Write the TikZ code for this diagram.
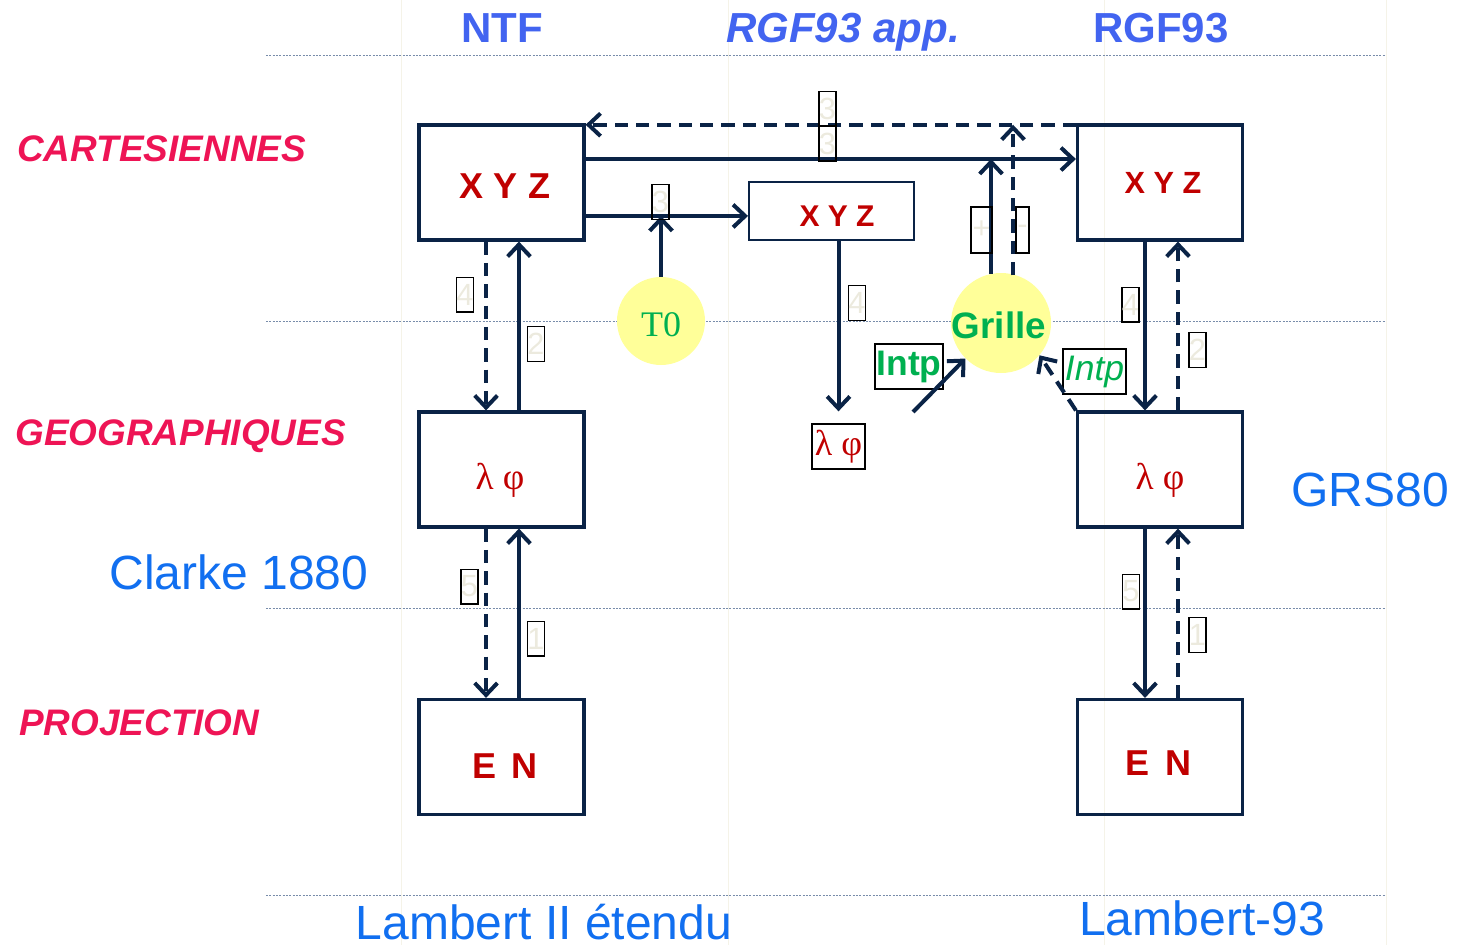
\documentclass[tikz,border=0pt]{standalone}
\usepackage{fontspec}
\setmainfont{Liberation Sans}
\newfontfamily\serifgr{Liberation Serif}
\usetikzlibrary{arrows.meta,calc}
\definecolor{navy}{RGB}{10,35,70}
\definecolor{darkred}{RGB}{192,0,0}
\definecolor{hdrblue}{RGB}{66,100,240}
\definecolor{crimson}{RGB}{238,20,85}
\definecolor{lblblue}{RGB}{17,111,240}
\definecolor{grn}{RGB}{0,176,80}
\definecolor{ylw}{RGB}{255,255,153}
\definecolor{guide}{RGB}{120,140,170}
\definecolor{faint}{RGB}{236,234,222}
\definecolor{vfaint}{RGB}{245,243,232}
\tikzset{
  mainbox/.style={draw=navy,line width=2.4pt,minimum width=123.75pt,minimum height=86.25pt,inner sep=0pt},
  boxtext/.style={text=darkred,font=\bfseries\fontsize{27}{30}\selectfont,inner sep=0pt},
  midbox/.style={draw=navy,line width=1.5pt,minimum width=123.75pt,minimum height=43.5pt,inner sep=0pt,text=darkred,font=\bfseries\fontsize{22.5}{26}\selectfont},
  geotext/.style={text=darkred,font=\serifgr\fontsize{28}{30}\selectfont,inner sep=0pt},
  numbox/.style={draw=black,line width=1pt,minimum width=12pt,minimum height=26pt,inner sep=0pt,text=faint,font=\fontsize{23}{26}\selectfont},
  arr/.style={draw=navy,line width=3pt,-{Straight Barb[length=9pt,width=17pt]}},
  darr/.style={arr,dash pattern=on 10pt off 6pt},
  guideline/.style={draw=guide,line width=0.75pt,dash pattern=on 1.5pt off 1pt},
  hdr/.style={text=hdrblue,font=\bfseries\fontsize{31.5}{36}\selectfont,inner sep=0pt},
  rowlbl/.style={text=crimson,font=\bfseries\itshape\fontsize{27.7}{32}\selectfont,inner sep=0pt,anchor=west},
  bluelbl/.style={text=lblblue,font=\fontsize{36}{40}\selectfont,inner sep=0pt},
  bubble/.style={circle,fill=ylw,draw=none,inner sep=0pt},
  intpbox/.style={draw=black,line width=1pt,inner sep=0pt,minimum height=33.75pt,text=grn}
}
\begin{document}
\begin{tikzpicture}[x=0.75pt,y=-0.75pt]
\useasboundingbox (0,0) rectangle (1458,945);
% faint vertical guides
\foreach \xx in {401,728,1104,1386} \draw[vfaint,line width=0.75pt] (\xx,0) -- (\xx,945);
% horizontal guides
\foreach \yy in {56,321,608,895} \draw[guideline] (266,\yy) -- (1386,\yy);
% headers
\node[hdr] (hntf) at (502,28) {NTF};
\node[hdr,font=\bfseries\itshape\fontsize{31.5}{36}\selectfont] (happ) at (843,32) {RGF93 app.};
\node[hdr] (hrgf) at (1161,28) {RGF93};
% row labels
\node[rowlbl] (lcart) at (17,149) {CARTESIENNES};
\node[rowlbl] (lgeo) at (15,436) {GEOGRAPHIQUES};
\node[rowlbl] (lproj) at (19,723) {PROJECTION};
\node[bluelbl] (lclarke) at (239,572) {Clarke 1880};
\node[bluelbl] (lgrs) at (1370,490) {GRS80};
\node[bluelbl] (llamb2) at (544,922) {Lambert II étendu};
\node[bluelbl] (llamb93) at (1202,918) {Lambert-93};
% bubbles
\node[bubble,minimum size=66pt] (t0) at (661,321) {};
\node[text=grn,font=\serifgr\fontsize{27}{30}\selectfont] (t0txt) at (661,325) {T0};
\node[bubble,minimum size=75pt] (grille) at (1001,323) {};
\node[text=grn,font=\bfseries\fontsize{27.6}{30}\selectfont] (grtxt) at (999,325) {Grille};
% boxes
\node[mainbox] (ntfxyz) at (501.5,182.5) {};
\node[boxtext] (ntfxyzt) at (505,186) {X Y Z};
\node[mainbox] (ntfgeo) at (501.5,469.5) {};
\node[geotext] (ntfgeot) at (500,480) {λ φ};
\node[mainbox] (ntfen) at (501.5,757) {};
\node[boxtext] (ntfent) at (505,766) {E\, N};
\node[midbox] (midxyz) at (831.5,211) {};
\node[boxtext,font=\bfseries\fontsize{22.5}{26}\selectfont] (midxyzt) at (837,216) {X Y Z};
\node[mainbox] (rgfxyz) at (1160,182.5) {};
\node[boxtext,font=\bfseries\fontsize{23}{26}\selectfont] (rgfxyzt) at (1163,183) {X Y Z};
\node[mainbox] (rgfgeo) at (1160,469.5) {};
\node[geotext] (rgfgeot) at (1160,480) {λ φ};
\node[mainbox] (rgfen) at (1160,757) {};
\node[boxtext] (rgfent) at (1158,763) {E\, N};
\node[draw=black,line width=1pt,minimum width=39.75pt,minimum height=33.75pt,inner sep=0pt,text=darkred,font=\serifgr\fontsize{27}{28}\selectfont] (smallgeo) at (838.5,446.5) {λ φ};
% Intp boxes
\node[intpbox,minimum width=51pt,font=\bfseries\fontsize{26.6}{30}\selectfont] (intpa) at (909,366.5) {Intp};
\node[intpbox,minimum width=47.25pt,font=\itshape\fontsize{26.6}{30}\selectfont] (intpb) at (1094.5,371.5) {Intp};
% arrows top
\coordinate (ytop) at ([yshift=17.6pt]ntfxyz.east);
\coordinate (ymid) at ([yshift=-25.1pt]ntfxyz.east);
\coordinate (ydash) at ([yshift=-1pt]ntfxyz.north east);
\draw[darr] (rgfxyz.north west |- ydash) -- (ydash);
\draw[arr] (ytop) -- (ytop -| rgfxyz.west);
\draw[arr] (ymid) -- (ymid -| midxyz.west);
\draw[arr] (t0.north) -- (t0.north |- ymid);
\draw[arr] (smallgeo.north |- midxyz.south) -- ([yshift=9pt]smallgeo.north);
\coordinate (g1) at ([xshift=-7.5pt,yshift=-1pt]grille.north);
\coordinate (g2) at ([xshift=9pt,yshift=-2pt]grille.north);
\draw[arr] (g1) -- (g1 |- ytop);
\draw[darr] (g2) -- (g2 |- ydash);
\coordinate (intpstart) at (913,412);
\draw[arr] (intpstart) -- (grille.225);
\draw[darr] (rgfgeo.north west) -- (grille.320);
% NTF column
\draw[darr] ([xshift=-11.6pt]ntfxyz.south) -- ([xshift=-11.6pt]ntfgeo.north);
\draw[arr] ([xshift=13.1pt]ntfgeo.north) -- ([xshift=13.1pt]ntfxyz.south);
\draw[darr] ([xshift=-11.6pt]ntfgeo.south) -- ([xshift=-11.6pt]ntfen.north);
\draw[arr] ([xshift=13.1pt]ntfen.north) -- ([xshift=13.1pt]ntfgeo.south);
% RGF column
\draw[arr] ([xshift=-11.25pt]rgfxyz.south) -- ([xshift=-11.25pt]rgfgeo.north);
\draw[darr] ([xshift=13.5pt]rgfgeo.north) -- ([xshift=13.5pt]rgfxyz.south);
\draw[arr] ([xshift=-11.25pt]rgfgeo.south) -- ([xshift=-11.25pt]rgfen.north);
\draw[darr] ([xshift=13.5pt]rgfen.north) -- ([xshift=13.5pt]rgfgeo.south);
% number boxes
\node[numbox] (n3a) at (827.5,109) {3};
\node[numbox] (n3b) at (827.5,143.5) {3};
\node[numbox] (n3c) at (660.5,202) {3};
\node[numbox] (n4a) at (465,294.5) {4};
\node[numbox] (n2a) at (536,344) {2};
\node[numbox,minimum width=15.75pt,minimum height=34.5pt] (nplus) at (981.5,230) {+};
\node[numbox,minimum width=9.75pt,minimum height=34.5pt] (nminus) at (1022.5,230) {-};
\node[numbox] (n4b) at (857,303) {4};
\node[numbox] (n4c) at (1130.5,304.5) {4};
\node[numbox] (n2b) at (1197.5,350) {2};
\node[numbox] (n5a) at (469.5,586.5) {5};
\node[numbox] (n1a) at (536,638.5) {1};
\node[numbox] (n5b) at (1131,591.5) {5};
\node[numbox] (n1b) at (1197.5,635) {1};
\end{tikzpicture}
\end{document}
